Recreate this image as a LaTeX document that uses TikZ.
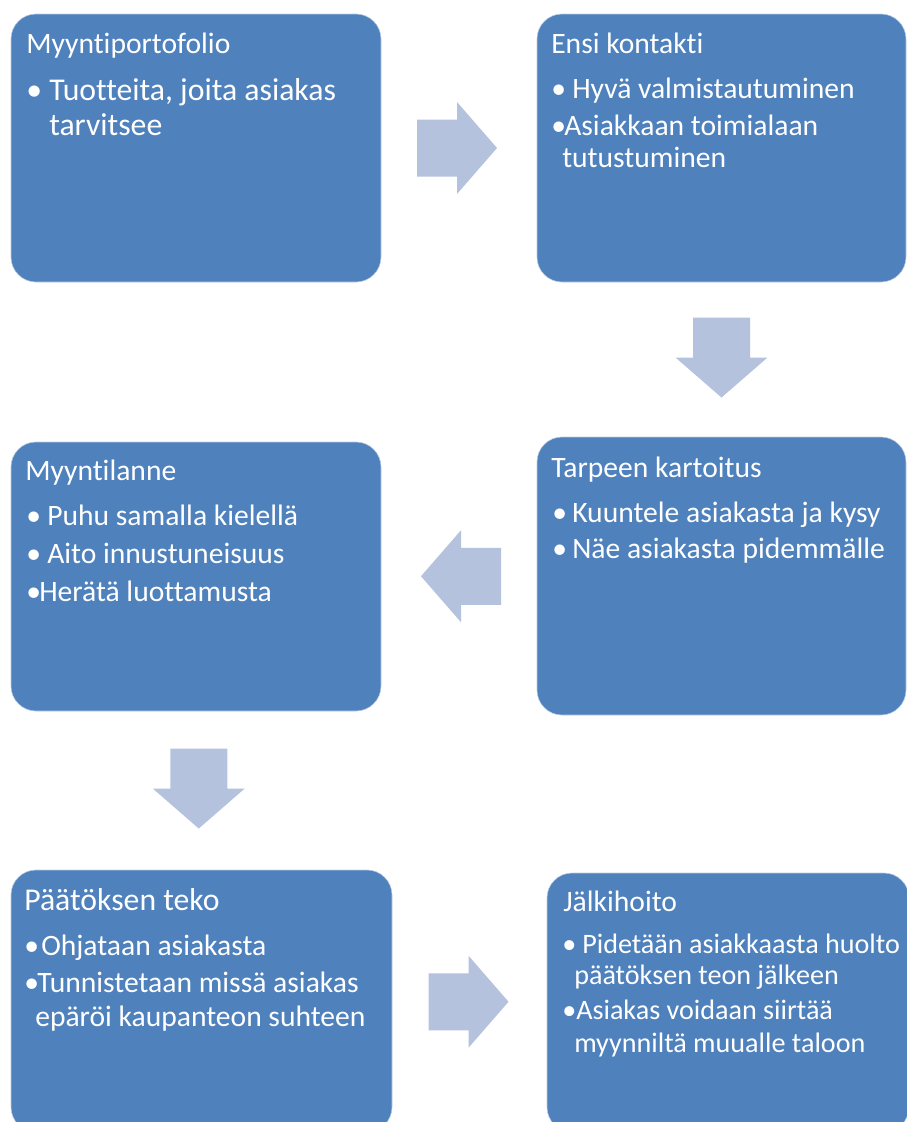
\documentclass[tikz,border=0pt]{standalone}
\usepackage{fontspec}
\setmainfont{Carlito}[Ligatures={NoCommon}]
\usetikzlibrary{calc}

\definecolor{stageblue}{RGB}{79,129,189}
\definecolor{flowblue}{RGB}{180,194,222}

\begin{document}
\begin{tikzpicture}[
    x=0.75pt, y=-0.75pt,
    stage/.style={fill=stageblue, draw=white!60!stageblue, line width=0.4pt, rounded corners=18.75pt, inner sep=0pt},
    boxsize/.style 2 args={minimum width=#1*0.75pt, minimum height=#2*0.75pt},
    flow/.pic={\fill[flowblue] (-40,-28.5) -- (0,-28.5) -- (0,-46) -- (40,0) -- (0,46) -- (0,28.5) -- (-40,28.5) -- cycle;},
    ttl/.style={anchor=base west, inner sep=0pt, text=white, font=\fontsize{22.2pt}{26pt}\selectfont},
    itm/.style={anchor=base west, inner sep=0pt, text=white, font=\fontsize{22.2pt}{26pt}\selectfont},
    bigitm/.style={itm, font=\fontsize{23.8pt}{28pt}\selectfont},
    smallitm/.style={itm, font=\fontsize{21.1pt}{25pt}\selectfont},
]
\path[use as bounding box, fill=white] (0,0) rectangle (907,1122);

% vaiheet
\node[stage, boxsize={370}{268}] (portfolio) at (196,148) {};
\node[stage, boxsize={369}{268}] (contact) at (721.5,148) {};
\node[stage, boxsize={369}{278}] (mapping) at (721.5,576) {};
\node[stage, boxsize={370}{269}] (situation) at (196,576.5) {};
\node[stage, boxsize={381}{262}] (decision) at (201.5,1001) {};
\node[stage, boxsize={362}{259}] (aftercare) at (728,1002.5) {};

% nuolet vaiheiden välissä
\coordinate (arr1) at ($(portfolio.east)!0.5!(contact.west)+(-2,0)$);
\coordinate (arr2) at ($(contact.south)!0.5!(mapping.north)+(0,-2)$);
\coordinate (arr3) at ($(mapping.west)!0.5!(situation.east)+(2,0)$);
\coordinate (arr4) at ($(situation.south)!0.5!(decision.north)+(0,-2)$);
\coordinate (arr5) at ($(decision.east)!0.5!(aftercare.west)+(-1,0)$);
\pic at (arr1) {flow};
\pic[rotate=-90] at (arr2) {flow};
\pic[rotate=180] at (arr3) {flow};
\pic[rotate=-90] at (arr4) {flow};
\pic at (arr5) {flow};

% Myyntiportofolio
\node[ttl] (t1) at (26,53) {Myyntiportofolio};
\node[bigitm] (b11) at (26,100) {•};
\node[bigitm] (l11) at (49,100) {Tuotteita, joita asiakas};
\node[bigitm] (l12) at (49,135) {tarvitsee};

% Ensi kontakti
\node[ttl] (t2) at (551,53) {Ensi kontakti};
\node[itm] (b21) at (551,98) {•};
\node[itm] (l21) at (572,98) {Hyvä valmistautuminen};
\node[itm] (b22) at (551,135) {•};
\node[itm] (l22) at (564,135) {Asiakkaan toimialaan};
\node[itm] (l23) at (562,167) {tutustuminen};

% Tarpeen kartoitus
\node[ttl] (t3) at (551,477) {Tarpeen kartoitus};
\node[itm] (b31) at (552,522) {•};
\node[itm] (l31) at (572,522) {Kuuntele asiakasta ja kysy};
\node[itm] (b32) at (552,558) {•};
\node[itm] (l32) at (572,558) {Näe asiakasta pidemmälle};

% Myyntilanne
\node[ttl] (t4) at (25,480) {Myyntilanne};
\node[itm] (b41) at (26,525) {•};
\node[itm] (l41) at (47,525) {Puhu samalla kielellä};
\node[itm] (b42) at (26,563) {•};
\node[itm] (l42) at (47,563) {Aito innustuneisuus};
\node[itm] (b43) at (26,601) {•};
\node[itm] (l43) at (39,601) {Herätä luottamusta};

% Päätöksen teko
\node[ttl, font=\fontsize{23.8pt}{28pt}\selectfont] (t5) at (24,910) {Päätöksen teko};
\node[itm] (b51) at (24,955) {•};
\node[itm] (l51) at (41,955) {Ohjataan asiakasta};
\node[itm] (b52) at (24,992) {•};
\node[itm] (l52) at (37,992) {Tunnistetaan missä asiakas};
\node[itm] (l53) at (35,1026) {epäröi kaupanteon suhteen};

% Jälkihoito
\node[ttl] (t6) at (563,911) {Jälkihoito};
\node[smallitm] (b61) at (562,953) {•};
\node[smallitm] (l61) at (582,953) {Pidetään asiakkaasta huolto};
\node[smallitm] (l62) at (574,984) {päätöksen teon jälkeen};
\node[smallitm] (b62) at (562,1019) {•};
\node[smallitm] (l63) at (576,1019) {Asiakas voidaan siirtää};
\node[smallitm] (l64) at (574,1052) {myynniltä muualle taloon};

\end{tikzpicture}
\end{document}
